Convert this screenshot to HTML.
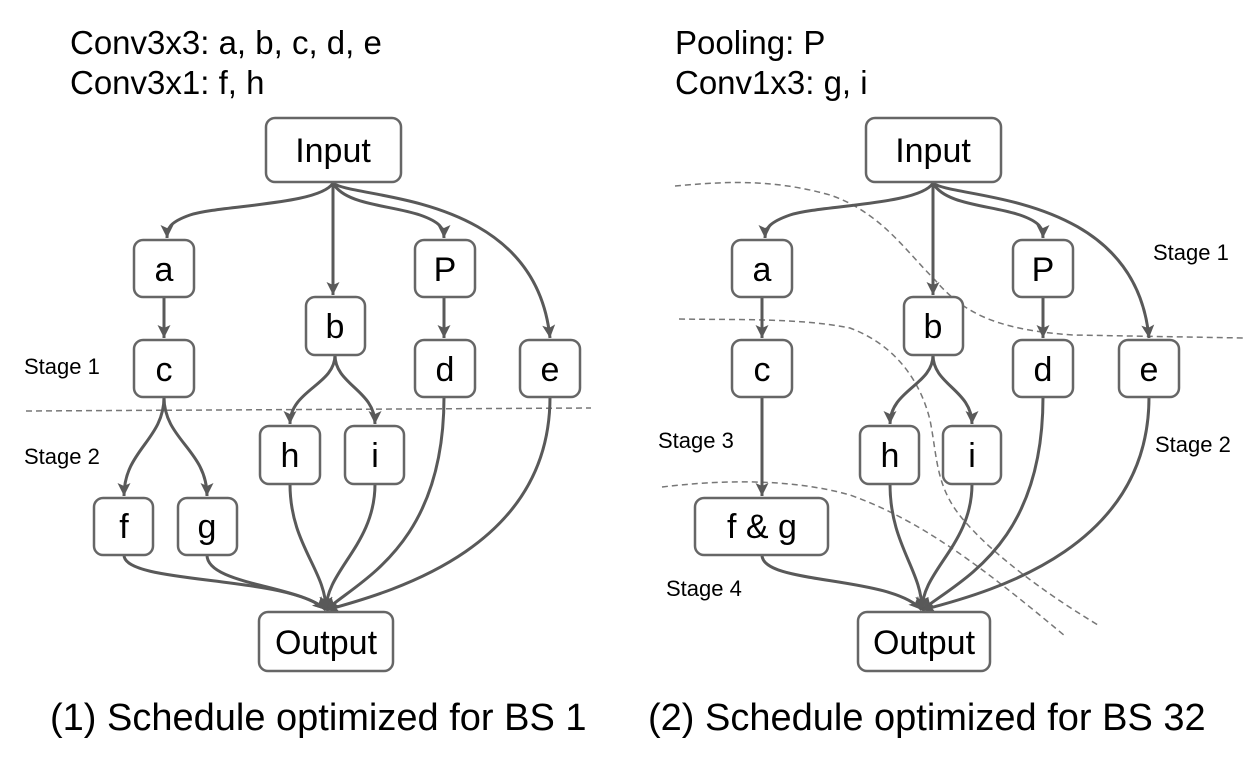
<!DOCTYPE html>
<html><head><meta charset="utf-8"><style>
html,body{margin:0;padding:0;background:#fff;}
svg{display:block;font-family:"Liberation Sans",Arial,sans-serif;}
</style></head><body>
<svg width="1256" height="758" viewBox="0 0 1256 758" xmlns="http://www.w3.org/2000/svg">
<defs>
<marker id="ar" markerWidth="16" markerHeight="16" viewBox="0 0 16 16" refX="14" refY="8" orient="auto" markerUnits="userSpaceOnUse">
<path d="M1,1.5 L14,8 L1,14.5 L4,8 Z" fill="#595959"/>
</marker>
</defs>
<g font-size="33" fill="#000">
<text x="70" y="54">Conv3x3: a, b, c, d, e</text>
<text x="70" y="94">Conv3x1: f, h</text>
<text x="675" y="54">Pooling: P</text>
<text x="675" y="94">Conv1x3: g, i</text>
</g>
<g font-size="38" fill="#000">
<text x="50" y="730">(1) Schedule optimized for BS 1</text>
<text x="648" y="730">(2) Schedule optimized for BS 32</text>
</g>
<g font-size="22" fill="#000">
<text x="24" y="374">Stage 1</text>
<text x="24" y="464">Stage 2</text>
<text x="1153" y="260">Stage 1</text>
<text x="1155" y="452">Stage 2</text>
<text x="658" y="448">Stage 3</text>
<text x="666" y="596">Stage 4</text>
</g>
<g fill="none" stroke="#777" stroke-width="1.5" stroke-dasharray="6,4">
<path d="M26,411 L591,408"/>
<path d="M675,186 C720,182 770,178 830,195 C880,212 905,250 935,280 C965,315 1000,330 1073,335 L1244,338"/>
<path d="M679,319 C740,320 800,318 850,328 C895,345 920,380 930,420 C938,460 935,490 968,525 C995,555 1040,590 1098,625"/>
<path d="M662,487 C720,480 790,478 850,495 C920,520 980,565 1065,636"/>
</g>
<g fill="none" stroke="#595959" stroke-width="3">
<path d="M333,183 C320,205 220,205 190,215 C170,222 167,228 167,238" marker-end="url(#ar)"/>
<path d="M333,183 L333,295" marker-end="url(#ar)"/>
<path d="M333,183 C345,205 390,205 420,215 C440,222 444,228 444,238" marker-end="url(#ar)"/>
<path d="M333,183 C355,200 535,190 550,338" marker-end="url(#ar)"/>
<path d="M164,297 L164,338" marker-end="url(#ar)"/>
<path d="M444,297 L444,338" marker-end="url(#ar)"/>
<path d="M335,355 C335,385 290,390 290,424" marker-end="url(#ar)"/>
<path d="M335,355 C335,385 375,390 375,424" marker-end="url(#ar)"/>
<path d="M164,397 C164,440 124,450 124,496" marker-end="url(#ar)"/>
<path d="M164,397 C164,440 207,450 207,496" marker-end="url(#ar)"/>
<path d="M124,555 C124,585 290,575 326,610" marker-end="url(#ar)"/>
<path d="M207,555 C207,585 300,585 326,610" marker-end="url(#ar)"/>
<path d="M290,484 C290,545 326,570 326,610" marker-end="url(#ar)"/>
<path d="M375,484 C375,545 326,570 326,610" marker-end="url(#ar)"/>
<path d="M444,397 C444,545 360,580 326,610" marker-end="url(#ar)"/>
<path d="M550,397 C550,545 400,590 326,610" marker-end="url(#ar)"/>

<path d="M933,183 C920,205 820,205 790,215 C770,222 765,228 765,238" marker-end="url(#ar)"/>
<path d="M933,183 L933,295" marker-end="url(#ar)"/>
<path d="M933,183 C945,205 990,205 1020,215 C1040,222 1043,228 1043,238" marker-end="url(#ar)"/>
<path d="M933,183 C955,200 1135,190 1149,338" marker-end="url(#ar)"/>
<path d="M762,297 L762,338" marker-end="url(#ar)"/>
<path d="M1043,297 L1043,338" marker-end="url(#ar)"/>
<path d="M762,397 L762,496" marker-end="url(#ar)"/>
<path d="M933,355 C933,385 890,390 890,424" marker-end="url(#ar)"/>
<path d="M933,355 C933,385 972,390 972,424" marker-end="url(#ar)"/>
<path d="M762,555 C762,585 890,575 922,610" marker-end="url(#ar)"/>
<path d="M890,484 C890,545 922,570 922,610" marker-end="url(#ar)"/>
<path d="M972,484 C972,545 922,570 922,610" marker-end="url(#ar)"/>
<path d="M1043,397 C1043,545 960,580 922,610" marker-end="url(#ar)"/>
<path d="M1149,397 C1149,545 1000,590 922,610" marker-end="url(#ar)"/>
</g>
<g fill="#fff" stroke="#666" stroke-width="2.5">
<rect x="266" y="118" width="135" height="64" rx="9"/>
<rect x="134" y="240" width="60" height="57" rx="9"/>
<rect x="134" y="340" width="60" height="57" rx="9"/>
<rect x="306" y="297" width="59" height="58" rx="9"/>
<rect x="415" y="240" width="60" height="57" rx="9"/>
<rect x="415" y="340" width="60" height="57" rx="9"/>
<rect x="520" y="340" width="60" height="57" rx="9"/>
<rect x="260" y="426" width="60" height="58" rx="9"/>
<rect x="345" y="426" width="59" height="58" rx="9"/>
<rect x="94" y="498" width="59" height="57" rx="9"/>
<rect x="178" y="498" width="59" height="57" rx="9"/>
<rect x="259" y="612" width="134" height="59" rx="9"/>

<rect x="866" y="118" width="135" height="64" rx="9"/>
<rect x="732" y="240" width="60" height="57" rx="9"/>
<rect x="732" y="340" width="60" height="57" rx="9"/>
<rect x="904" y="297" width="59" height="58" rx="9"/>
<rect x="1013" y="240" width="60" height="57" rx="9"/>
<rect x="1013" y="340" width="60" height="57" rx="9"/>
<rect x="1119" y="340" width="60" height="57" rx="9"/>
<rect x="860" y="426" width="59" height="58" rx="9"/>
<rect x="943" y="426" width="58" height="58" rx="9"/>
<rect x="695" y="498" width="133" height="57" rx="9"/>
<rect x="858" y="612" width="132" height="59" rx="9"/>
</g>
<g font-size="34" fill="#000" text-anchor="middle">
<text x="333" y="162">Input</text>
<text x="164" y="281">a</text>
<text x="164" y="381">c</text>
<text x="335" y="338">b</text>
<text x="445" y="281">P</text>
<text x="445" y="381">d</text>
<text x="550" y="381">e</text>
<text x="290" y="467">h</text>
<text x="375" y="467">i</text>
<text x="124" y="538">f</text>
<text x="207" y="538">g</text>
<text x="326" y="654">Output</text>

<text x="933" y="162">Input</text>
<text x="762" y="281">a</text>
<text x="762" y="381">c</text>
<text x="933" y="338">b</text>
<text x="1043" y="281">P</text>
<text x="1043" y="381">d</text>
<text x="1149" y="381">e</text>
<text x="890" y="467">h</text>
<text x="972" y="467">i</text>
<text x="762" y="538">f &amp; g</text>
<text x="924" y="654">Output</text>
</g>
</svg>
</body></html>
